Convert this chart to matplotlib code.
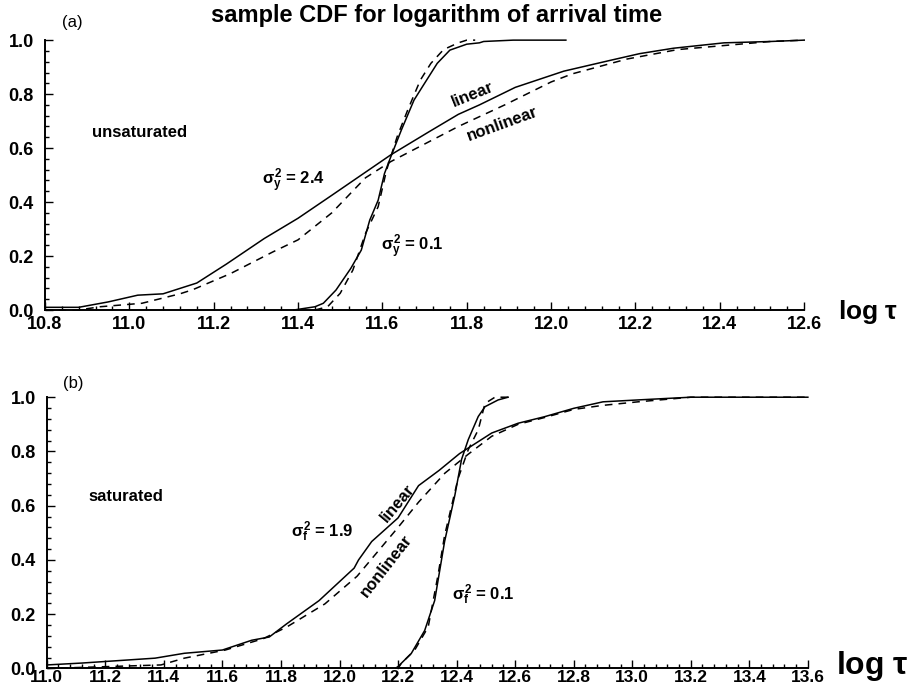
import matplotlib
matplotlib.use('Agg')
import matplotlib.pyplot as plt
from matplotlib.ticker import MultipleLocator, FormatStrFormatter

plt.rcParams['font.family'] = ['Liberation Sans', 'DejaVu Sans']
plt.rcParams['font.weight'] = 'bold'
plt.rcParams['mathtext.fontset'] = 'custom'
plt.rcParams['mathtext.rm'] = 'Liberation Sans:bold'
plt.rcParams['mathtext.it'] = 'Liberation Sans:bold'
plt.rcParams['mathtext.bf'] = 'Liberation Sans:bold'

# ---- panel (a): unsaturated ----
a_lin_wide_x = [10.80, 10.88, 10.95, 11.02, 11.08, 11.14, 11.16, 11.23, 11.32, 11.40, 11.48, 11.55,
                11.62, 11.71, 11.78, 11.83, 11.915, 12.03, 12.14, 12.21, 12.29, 12.41, 12.52, 12.60]
a_lin_wide_y = [0.01, 0.01, 0.03, 0.055, 0.06, 0.09, 0.10, 0.17, 0.265, 0.34, 0.425, 0.50,
                0.575, 0.66, 0.725, 0.76, 0.825, 0.885, 0.925, 0.95, 0.97, 0.99, 0.995, 1.0]
a_non_wide_x = [10.80, 10.88, 10.93, 11.03, 11.12, 11.15, 11.24, 11.34, 11.40, 11.48, 11.56,
                11.62, 11.70, 11.78, 11.89, 12.0, 12.05, 12.18, 12.30, 12.41, 12.52, 12.60]
a_non_wide_y = [0.0, 0.0, 0.012, 0.025, 0.06, 0.075, 0.135, 0.215, 0.26, 0.36, 0.49,
                0.55, 0.615, 0.68, 0.76, 0.845, 0.875, 0.93, 0.965, 0.98, 0.995, 1.0]
a_lin_narrow_x = [11.39, 11.44, 11.46, 11.49, 11.525, 11.55, 11.57, 11.59, 11.605, 11.62, 11.645,
                  11.675, 11.70, 11.73, 11.76, 11.80, 11.83, 11.84, 11.91, 12.035]
a_lin_narrow_y = [0.0, 0.012, 0.025, 0.074, 0.154, 0.222, 0.333, 0.407, 0.506, 0.568, 0.667,
                  0.778, 0.84, 0.914, 0.963, 0.985, 0.99, 0.995, 1.0, 1.0]
a_non_narrow_x = [11.44, 11.47, 11.50, 11.53, 11.56, 11.59, 11.61, 11.635, 11.66, 11.69, 11.715,
                  11.745, 11.78, 11.80, 11.82]
a_non_narrow_y = [0.0, 0.012, 0.062, 0.148, 0.284, 0.383, 0.519, 0.642, 0.741, 0.852, 0.914,
                  0.965, 0.99, 1.0, 1.0]

# ---- panel (b): saturated ----
b_lin_wide_x = [11.0, 11.12, 11.37, 11.47, 11.60, 11.70, 11.76, 11.82, 11.93, 12.05, 12.065, 12.11,
                12.20, 12.27, 12.34, 12.41, 12.52, 12.61, 12.70, 12.80, 12.90, 13.02, 13.20, 13.40, 13.60]
b_lin_wide_y = [0.013, 0.02, 0.038, 0.056, 0.068, 0.104, 0.116, 0.165, 0.25, 0.37, 0.40, 0.468,
                0.555, 0.674, 0.73, 0.792, 0.868, 0.904, 0.928, 0.959, 0.983, 0.99, 1.0, 1.0, 1.0]
b_non_wide_x = [11.0, 11.15, 11.39, 11.47, 11.61, 11.74, 11.82, 11.95, 12.06, 12.13, 12.20, 12.27,
                12.36, 12.44, 12.52, 12.61, 12.70, 12.80, 12.90, 13.02, 13.20, 13.40, 13.60]
b_non_wide_y = [0.0, 0.005, 0.013, 0.038, 0.068, 0.11, 0.153, 0.238, 0.34, 0.43, 0.52, 0.613,
                0.72, 0.79, 0.856, 0.90, 0.925, 0.955, 0.97, 0.983, 1.0, 1.0, 1.0]
b_lin_narrow_x = [12.20, 12.211, 12.245, 12.291, 12.325, 12.359, 12.394, 12.417, 12.44, 12.474,
                  12.497, 12.542, 12.576]
b_lin_narrow_y = [0.0, 0.019, 0.055, 0.14, 0.25, 0.468, 0.638, 0.771, 0.844, 0.929,
                  0.965, 0.99, 1.0]
b_non_narrow_x = [12.19, 12.20, 12.257, 12.303, 12.337, 12.359, 12.405, 12.44, 12.474, 12.497,
                  12.531, 12.576]
b_non_narrow_y = [0.0, 0.007, 0.068, 0.153, 0.347, 0.49, 0.70, 0.807, 0.88, 0.977,
                  1.0, 1.0]

dash = (0, (5, 4))
lw = 1.1


def setup(ax, xmin, xmax, xsize=13, xpad=4):
    ax.set_xlim(xmin, xmax)
    ax.set_ylim(0, 1.0)
    for s in ['top', 'right']:
        ax.spines[s].set_visible(False)
    for s in ['left', 'bottom']:
        ax.spines[s].set_linewidth(1.4)
    ax.xaxis.set_major_locator(MultipleLocator(0.2))
    ax.xaxis.set_minor_locator(MultipleLocator(0.04))
    ax.yaxis.set_major_locator(MultipleLocator(0.2))
    ax.yaxis.set_minor_locator(MultipleLocator(0.04))
    ax.xaxis.set_major_formatter(FormatStrFormatter('%.1f'))
    ax.yaxis.set_major_formatter(FormatStrFormatter('%.1f'))
    ax.tick_params(which='both', direction='in', width=1)
    ax.tick_params(which='major', length=6)
    ax.tick_params(which='minor', length=3)
    ax.tick_params(axis='x', labelsize=xsize, pad=xpad)
    ax.tick_params(axis='y', labelsize=13, pad=8)


fig = plt.figure(figsize=(9.17, 6.92), dpi=100)

ax1 = fig.add_axes([0.049, 0.552, 0.828, 0.390])
setup(ax1, 10.8, 12.6)
ax1.plot(a_lin_wide_x, a_lin_wide_y, 'k-', lw=lw, clip_on=False)
ax1.plot(a_non_wide_x, a_non_wide_y, color='k', ls=dash, lw=lw, clip_on=False)
ax1.plot(a_lin_narrow_x, a_lin_narrow_y, 'k-', lw=lw, clip_on=False)
ax1.plot(a_non_narrow_x, a_non_narrow_y, color='k', ls=dash, lw=lw, clip_on=False)
ax1.text(11.025, 0.656, 'unsaturated', ha='center', va='center', fontsize=12)
ax1.text(11.39, 0.48, r'$\sigma_y^2$ = 2.4', ha='center', va='center', fontsize=12)
ax1.text(11.67, 0.233, r'$\sigma_y^2$ = 0.1', ha='center', va='center', fontsize=12)
ax1.text(11.815, 0.80, 'linear', ha='center', va='center', fontsize=12, rotation=22)
ax1.text(11.884, 0.69, 'nonlinear', ha='center', va='center', fontsize=12, rotation=20)

ax2 = fig.add_axes([0.051, 0.034, 0.830, 0.392])
setup(ax2, 11.0, 13.6, xsize=12.5, xpad=1)
ax2.plot(b_lin_wide_x, b_lin_wide_y, 'k-', lw=lw, clip_on=False)
ax2.plot(b_non_wide_x, b_non_wide_y, color='k', ls=dash, lw=lw, clip_on=False)
ax2.plot(b_lin_narrow_x, b_lin_narrow_y, 'k-', lw=lw, clip_on=False)
ax2.plot(b_non_narrow_x, b_non_narrow_y, color='k', ls=dash, lw=lw, clip_on=False)
ax2.text(11.27, 0.633, 'saturated', ha='center', va='center', fontsize=12)
ax2.text(11.94, 0.505, r'$\sigma_f^2$ = 1.9', ha='center', va='center', fontsize=12)
ax2.text(12.49, 0.273, r'$\sigma_f^2$ = 0.1', ha='center', va='center', fontsize=12)
ax2.text(12.20, 0.61, 'linear', ha='center', va='center', fontsize=12, rotation=50)
ax2.text(12.16, 0.38, 'nonlinear', ha='center', va='center', fontsize=12, rotation=52)

fig.text(0.476, 0.978, 'sample CDF for logarithm of arrival time', ha='center', va='center', fontsize=17)
fig.text(0.0785, 0.968, '(a)', ha='center', va='center', fontsize=12, weight='normal')
fig.text(0.0796, 0.4465, '(b)', ha='center', va='center', fontsize=12, weight='normal')
fig.text(0.914, 0.549, r'log $\tau$', ha='left', va='center', fontsize=19)
fig.text(0.912, 0.038, r'log $\tau$', ha='left', va='center', fontsize=23)

fig.savefig('out.png', dpi=100)
